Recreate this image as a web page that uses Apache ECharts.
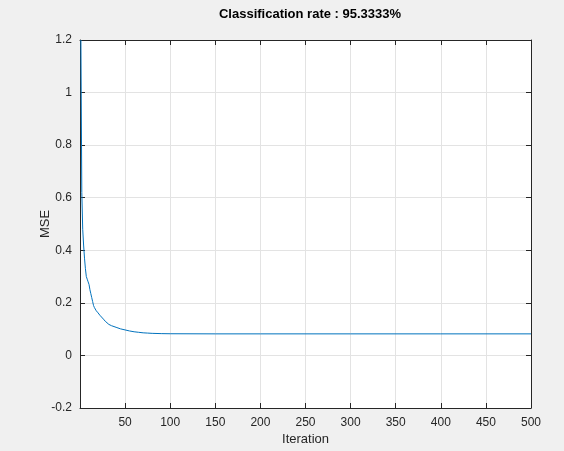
<!DOCTYPE html>
<html>
<head>
<meta charset="utf-8">
<script src="https://cdn.jsdelivr.net/npm/echarts@6/dist/echarts.min.js"></script>
<style>
  html, body { margin: 0; padding: 0; background: #f0f0f0; }
  #chart { width: 564px; height: 451px; }
</style>
</head>
<body>
<div id="chart"></div>
<script>
// values
const iterations = [1, 2, 3, 4, 5, 6, 7, 8, 9, 10, 11, 12, 13, 14, 15, 16, 17, 18, 20, 22, 24, 26, 28, 30, 32, 35, 40, 45, 50, 55, 60, 65, 70, 75, 80, 90, 100, 150, 200, 300, 400, 500]
const mse = [1.2, 0.62, 0.48, 0.42, 0.37, 0.33, 0.30, 0.29, 0.28, 0.27, 0.25, 0.235, 0.22, 0.205, 0.19, 0.182, 0.175, 0.17, 0.162, 0.153, 0.146, 0.138, 0.13, 0.123, 0.118, 0.113, 0.107, 0.101, 0.097, 0.093, 0.09, 0.088, 0.086, 0.085, 0.084, 0.083, 0.0825, 0.082, 0.082, 0.082, 0.082, 0.082]
const xTicks = [50, 100, 150, 200, 250, 300, 350, 400, 450, 500]
const titleText = 'Classification rate : 95.3333%'

let chart = echarts.init(document.getElementById('chart'))

const font = 'Liberation Sans, Arial, Helvetica, sans-serif'
const axisColor = '#262626'
const gridColor = '#e3e3e3'

// box axis (no labels) used for top and right sides
const boxAxis = (position, min, max, interval) => ({
	type: 'value',
	position: position,
	min: min,
	max: max,
	interval: interval,
	axisLine: { show: true, onZero: false, lineStyle: { color: axisColor, width: 1 } },
	axisTick: { show: true, inside: true, length: 5, lineStyle: { color: axisColor } },
	axisLabel: { show: false },
	splitLine: { show: false }
})

let option = {
	backgroundColor: '#f0f0f0',
	animation: false,
	title: {
		text: titleText,
		left: 305,
		top: 3,
		textAlign: 'center',
		textStyle: { fontFamily: font, fontSize: 13, fontWeight: 'bold', color: '#000' }
	},
	grid: {
		left: 80,
		right: 33,
		top: 40,
		bottom: 43,
		show: true,
		backgroundColor: '#fff',
		borderWidth: 0
	},
	xAxis: [
		{
			type: 'value',
			position: 'bottom',
			min: 0,
			max: 500,
			interval: 50,
			name: 'Iteration',
			nameLocation: 'middle',
			nameGap: 25,
			nameMoveOverlap: false,
			nameTextStyle: { fontFamily: font, fontSize: 13, color: '#262626' },
			axisLine: { show: true, onZero: false, lineStyle: { color: axisColor, width: 1 } },
			axisTick: { show: true, inside: true, length: 5, lineStyle: { color: axisColor } },
			axisLabel: {
				fontFamily: font, fontSize: 12, color: '#262626', margin: 9,
				formatter: v => xTicks.indexOf(v) >= 0 ? String(v) : ''
			},
			splitLine: { show: true, lineStyle: { color: gridColor, width: 1 } }
		},
		boxAxis('top', 0, 500, 50)
	],
	yAxis: [
		{
			type: 'value',
			position: 'left',
			min: -0.2,
			max: 1.2,
			interval: 0.2,
			name: 'MSE',
			nameLocation: 'middle',
			nameGap: 28,
			nameMoveOverlap: false,
			nameTextStyle: { fontFamily: font, fontSize: 13, color: '#262626' },
			axisLine: { show: true, onZero: false, lineStyle: { color: axisColor, width: 1 } },
			axisTick: { show: true, inside: true, length: 5, lineStyle: { color: axisColor } },
			axisLabel: {
				fontFamily: font, fontSize: 12, color: '#262626', margin: 8,
				formatter: v => String(Number(v.toFixed(1)))
			},
			splitLine: { show: true, lineStyle: { color: gridColor, width: 1 } }
		},
		boxAxis('right', -0.2, 1.2, 0.2)
	],
	series: [
		{
			type: 'line',
			xAxisIndex: 0,
			yAxisIndex: 0,
			data: iterations.map((it, i) => [it, mse[i]]),
			showSymbol: false,
			lineStyle: { color: '#0072BD', width: 1 },
			itemStyle: { color: '#0072BD' }
		}
	]
}

chart.setOption(option)
</script>
</body>
</html>
